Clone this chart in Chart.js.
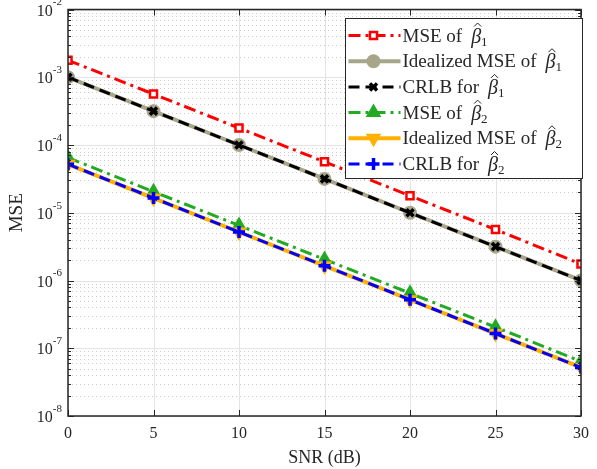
<!DOCTYPE html>
<html>
<head>
<meta charset="utf-8">
<script src="https://cdn.jsdelivr.net/npm/chart.js@4"></script>
<style>
  html, body { margin: 0; padding: 0; background: #fff; }
  #wrap { width: 597px; height: 469px; }
</style>
</head>
<body>
<div id="wrap"><canvas id="mseChart" width="597" height="469"></canvas></div>
<script>
// SNR values (dB)
const snr = [0, 5, 10, 15, 20, 25, 30];

// series values
const mseB1 = [1.78e-3, 5.65e-4, 1.78e-4, 5.65e-5, 1.78e-5, 5.65e-6, 1.75e-6];
const idealB1 = [1.0e-3, 3.16e-4, 1.0e-4, 3.16e-5, 1.0e-5, 3.16e-6, 1.0e-6];
const crlbB1 = [1.0e-3, 3.16e-4, 1.0e-4, 3.16e-5, 1.0e-5, 3.16e-6, 1.0e-6];
const mseB2 = [6.5e-5, 2.05e-5, 6.5e-6, 2.05e-6, 6.5e-7, 2.05e-7, 6.4e-8];
const idealB2 = [5.2e-5, 1.65e-5, 5.2e-6, 1.65e-6, 5.2e-7, 1.65e-7, 5.2e-8];
const crlbB2 = [5.2e-5, 1.65e-5, 5.2e-6, 1.65e-6, 5.2e-7, 1.65e-7, 5.2e-8];

// legend text: name, then beta-hat with subscript
const seriesNames = ['MSE of', 'Idealized MSE of', 'CRLB for', 'MSE of', 'Idealized MSE of', 'CRLB for'];
const seriesSubs = ['1', '1', '1', '2', '2', '2'];

// tick labels
const yTickExps = [-8, -7, -6, -5, -4, -3, -2];
const xTicks = [0, 5, 10, 15, 20, 25, 30];

const serif = '"Liberation Serif", "DejaVu Serif", serif';
const axisColor = '#262626';

function toPts(vals) {
    return vals.map((v, i) => ({ x: snr[i], y: v }));
}

const styles = [
    { color: '#ff0000', dash: [12, 5, 3, 5], point: 'rect', radius: 5, fill: '#ffffff', width: 3, pw: 2.5 },
    { color: '#a8a68a', dash: [], point: 'circle', radius: 6, fill: '#a8a68a', width: 4, pw: 2 },
    { color: '#000000', dash: [11, 6], point: 'crossRot', radius: 5, fill: '#000000', width: 3, pw: 3.5 },
    { color: '#22aa22', dash: [12, 5, 3, 5], point: 'triangle', radius: 7, fill: '#22aa22', width: 3, pw: 2 },
    { color: '#ffb000', dash: [], point: 'triangle', radius: 7, fill: '#ffb000', width: 4, pw: 2, rot: 180 },
    { color: '#0000ff', dash: [11, 6], point: 'cross', radius: 6, fill: '#0000ff', width: 3, pw: 3.5 }
];
const seriesData = [mseB1, idealB1, crlbB1, mseB2, idealB2, crlbB2];

const datasets = seriesData.map((vals, i) => {
    const s = styles[i];
    return {
        label: seriesNames[i] + ' β̂' + seriesSubs[i],
        data: toPts(vals),
        order: seriesData.length - i, // later series on top
        borderColor: s.color,
        backgroundColor: s.fill,
        borderWidth: s.width,
        borderDash: s.dash,
        pointStyle: s.point,
        pointRadius: s.radius,
        pointRotation: s.rot || 0,
        pointBorderColor: s.color,
        pointBackgroundColor: s.fill,
        pointBorderWidth: s.pw,
        pointHoverRadius: s.radius,
        tension: 0,
        fill: false
    };
});

// grid, inner ticks, box and y labels (MATLAB look)
const axesDecor = {
    id: 'axesDecor',
    beforeDatasetsDraw(chart) {
        const ctx = chart.ctx;
        const a = chart.chartArea;
        const xs = chart.scales.x, ys = chart.scales.y;
        ctx.save();
        // minor dotted grid
        ctx.strokeStyle = 'rgba(0,0,0,0.2)';
        ctx.lineWidth = 1;
        ctx.setLineDash([1, 3]);
        for (let e = 0; e < yTickExps.length - 1; e++) {
            for (let k = 2; k <= 9; k++) {
                const y = Math.round(ys.getPixelForValue(k * Math.pow(10, yTickExps[e]))) + 0.5;
                ctx.beginPath();
                ctx.moveTo(a.left, y);
                ctx.lineTo(a.right, y);
                ctx.stroke();
            }
        }
        // major grid
        ctx.setLineDash([]);
        ctx.strokeStyle = '#e3e3e3';
        yTickExps.forEach(e => {
            const y = Math.round(ys.getPixelForValue(Math.pow(10, e))) + 0.5;
            ctx.beginPath();
            ctx.moveTo(a.left, y);
            ctx.lineTo(a.right, y);
            ctx.stroke();
        });
        xTicks.forEach(t => {
            const x = Math.round(xs.getPixelForValue(t)) + 0.5;
            ctx.beginPath();
            ctx.moveTo(x, a.top);
            ctx.lineTo(x, a.bottom);
            ctx.stroke();
        });
        ctx.restore();
    },
    afterDraw(chart) {
        const ctx = chart.ctx;
        const a = chart.chartArea;
        const xs = chart.scales.x, ys = chart.scales.y;
        ctx.save();
        ctx.strokeStyle = axisColor;
        ctx.lineWidth = 1;
        // inner tick marks
        ctx.beginPath();
        yTickExps.forEach((e, idx) => {
            const y = Math.round(ys.getPixelForValue(Math.pow(10, e))) + 0.5;
            ctx.moveTo(a.left, y); ctx.lineTo(a.left + 6, y);
            ctx.moveTo(a.right, y); ctx.lineTo(a.right - 6, y);
            if (idx < yTickExps.length - 1) {
                for (let k = 2; k <= 9; k++) {
                    const ym = Math.round(ys.getPixelForValue(k * Math.pow(10, e))) + 0.5;
                    ctx.moveTo(a.left, ym); ctx.lineTo(a.left + 3, ym);
                    ctx.moveTo(a.right, ym); ctx.lineTo(a.right - 3, ym);
                }
            }
        });
        xTicks.forEach(t => {
            const x = Math.round(xs.getPixelForValue(t)) + 0.5;
            ctx.moveTo(x, a.bottom); ctx.lineTo(x, a.bottom - 6);
            ctx.moveTo(x, a.top); ctx.lineTo(x, a.top + 6);
        });
        ctx.stroke();
        // box
        ctx.lineWidth = 1.5;
        ctx.strokeRect(a.left, a.top, a.right - a.left, a.bottom - a.top);

        // y tick labels 10^n
        ctx.fillStyle = axisColor;
        ctx.textBaseline = 'middle';
        yTickExps.forEach(e => {
            const y = ys.getPixelForValue(Math.pow(10, e));
            const exp = String(e);
            ctx.font = '11px ' + serif;
            const ew = ctx.measureText(exp).width;
            ctx.textAlign = 'left';
            const right = a.left - 6;
            ctx.fillText(exp, right - ew, y - 7);
            ctx.font = '16px ' + serif;
            ctx.textAlign = 'right';
            ctx.fillText('10', right - ew, y + 2);
        });

        // legend
        const lx = 345.5, ly = 18.5, lw = 237, lh = 160;
        ctx.fillStyle = '#ffffff';
        ctx.fillRect(lx, ly, lw, lh);
        ctx.strokeStyle = axisColor;
        ctx.lineWidth = 1;
        ctx.strokeRect(lx, ly, lw, lh);
        chart.data.datasets.forEach((ds, i) => {
            const s = styles[i];
            const cy = ly + 17 + i * 25.7;
            ctx.save();
            ctx.strokeStyle = s.color;
            ctx.lineWidth = s.width;
            ctx.setLineDash(s.dash);
            ctx.beginPath();
            ctx.moveTo(lx + 3, cy);
            ctx.lineTo(lx + 55, cy);
            ctx.stroke();
            ctx.setLineDash([]);
            ctx.fillStyle = s.fill;
            ctx.lineWidth = s.pw;
            Chart.helpers.drawPoint(ctx, {
                pointStyle: s.point, radius: s.radius, rotation: s.rot || 0, borderWidth: s.pw
            }, lx + 28, cy);
            ctx.restore();

            // text
            ctx.fillStyle = axisColor;
            ctx.strokeStyle = axisColor;
            ctx.textAlign = 'left';
            ctx.textBaseline = 'alphabetic';
            ctx.font = '19px ' + serif;
            let tx = lx + 57;
            const base = cy + 6;
            const name = seriesNames[i];
            ctx.fillText(name, tx, base);
            tx += ctx.measureText(name).width + 9;
            ctx.font = 'italic 20px ' + serif;
            ctx.fillText('β', tx, base + 1);
            const bw = ctx.measureText('β').width;
            // hat
            const hx = tx + bw / 2 + 1.5;
            ctx.lineWidth = 1;
            ctx.beginPath();
            ctx.moveTo(hx - 3.5, base - 15);
            ctx.lineTo(hx, base - 18.5);
            ctx.lineTo(hx + 3.5, base - 15);
            ctx.stroke();
            ctx.font = '13px ' + serif;
            ctx.fillText(seriesSubs[i], tx + bw, base + 4);
        });
        ctx.restore();
    }
};

const ctx = document.getElementById('mseChart').getContext('2d');
const mseChart = new Chart(ctx, {
    type: 'line',
    data: { datasets: datasets },
    options: {
        responsive: false,
        animation: false,
        layout: { padding: { top: 8, right: 14, left: 0, bottom: 0 } },
        plugins: {
            legend: { display: false },
            tooltip: { enabled: false }
        },
        scales: {
            x: {
                type: 'linear',
                min: 0,
                max: 30,
                afterFit: s => { s.height = 53; },
                afterBuildTicks: s => { s.ticks = xTicks.map(v => ({ value: v })); },
                grid: { display: false, drawTicks: false },
                border: { display: false },
                ticks: {
                    color: axisColor,
                    font: { family: serif, size: 16 },
                    padding: 8,
                    maxRotation: 0
                },
                title: {
                    display: true,
                    text: 'SNR (dB)',
                    color: axisColor,
                    font: { family: serif, size: 18 },
                    padding: { top: 0, bottom: 0 }
                }
            },
            y: {
                type: 'logarithmic',
                min: 1e-8,
                max: 1e-2,
                afterFit: s => { s.width = 68; },
                grid: { display: false, drawTicks: false },
                border: { display: false },
                ticks: { display: false },
                title: {
                    display: true,
                    text: 'MSE',
                    color: axisColor,
                    font: { family: serif, size: 19 },
                    padding: { top: 6, bottom: 0 }
                }
            }
        }
    },
    plugins: [axesDecor]
});
</script>
</body>
</html>
